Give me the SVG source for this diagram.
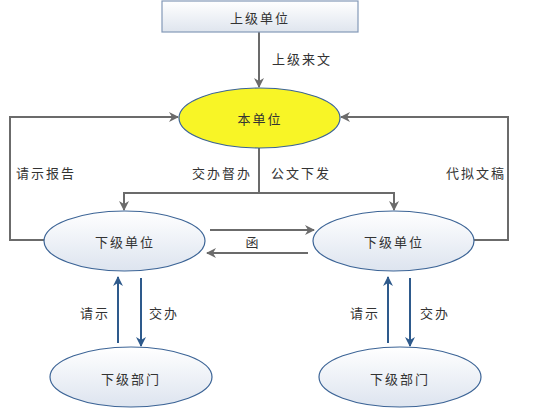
<svg xmlns="http://www.w3.org/2000/svg" width="546" height="411" viewBox="0 0 546 411">
<defs>
<linearGradient id="boxg" x1="0" y1="0" x2="0" y2="1">
<stop offset="0" stop-color="#ffffff"/>
<stop offset="1" stop-color="#dfe5ee"/>
</linearGradient>
<linearGradient id="ellg" x1="0" y1="0" x2="0" y2="1">
<stop offset="0" stop-color="#ffffff"/>
<stop offset="1" stop-color="#dde4ef"/>
</linearGradient>
<marker id="ag" markerWidth="10" markerHeight="10" refX="9" refY="5" orient="auto" markerUnits="userSpaceOnUse">
<path d="M0,0 L10,5 L0,10 L3,5 Z" fill="#6b6b6b"/>
</marker>
<marker id="ab" markerWidth="10" markerHeight="10" refX="9" refY="5" orient="auto" markerUnits="userSpaceOnUse">
<path d="M0,0 L10,5 L0,10 L3,5 Z" fill="#2e5a8c"/>
</marker>
</defs>
<style>
text{font-family:"Noto Sans CJK SC","Liberation Sans",sans-serif;font-size:13px;fill:#333;letter-spacing:2px;text-anchor:middle;dominant-baseline:central}
.g{fill:none;stroke:#6b6b6b;stroke-width:2;marker-end:url(#ag)}
.b{fill:none;stroke:#2e5a8c;stroke-width:2;marker-end:url(#ab)}
.n{fill:url(#ellg);stroke:#3c6496;stroke-width:1.2}
</style>
<rect width="546" height="411" fill="#fff"/>
<g id="connectors">
<path class="g" d="M259,32 V87"/>
<path class="g" d="M45,240 H10 V117 H178"/>
<path class="g" d="M474,240 H508 V117 H341"/>
<path class="g" d="M259,148 V193 H124 V210"/>
<path class="g" d="M259,193 H394 V210"/>
<path class="g" d="M210,230 H314"/>
<path class="g" d="M308,253 H207"/>
<path class="b" d="M118,343 V277"/>
<path class="b" d="M141,278 V346"/>
<path class="b" d="M388,343 V277"/>
<path class="b" d="M410,278 V346"/>
</g>
<g id="labels">
<text x="302" y="58">上级来文</text>
<text x="46" y="172">请示报告</text>
<text x="222" y="172">交办督办</text>
<text x="301" y="172">公文下发</text>
<text x="476" y="172">代拟文稿</text>
<text x="253" y="241">函</text>
<text x="95" y="312">请示</text>
<text x="164" y="312">交办</text>
<text x="365" y="312">请示</text>
<text x="435" y="312">交办</text>
</g>
<g id="n-top">
<rect x="162" y="1" width="196" height="31" fill="url(#boxg)" stroke="#8499b8" stroke-width="1.2"/>
<text x="260" y="17">上级单位</text>
</g>
<g id="n-self">
<ellipse cx="259.5" cy="118" rx="80.5" ry="30" fill="#f8f526" stroke="#3c6496" stroke-width="1.2"/>
<text x="260" y="118">本单位</text>
</g>
<g id="n-subL">
<ellipse class="n" cx="124.5" cy="241" rx="80.5" ry="30"/>
<text x="125" y="241">下级单位</text>
</g>
<g id="n-subR">
<ellipse class="n" cx="393.5" cy="241" rx="80.5" ry="30"/>
<text x="394" y="241">下级单位</text>
</g>
<g id="n-deptL">
<ellipse class="n" cx="131" cy="377" rx="81" ry="30"/>
<text x="131" y="378">下级部门</text>
</g>
<g id="n-deptR">
<ellipse class="n" cx="400" cy="377" rx="81" ry="30"/>
<text x="400" y="378">下级部门</text>
</g>
</svg>
